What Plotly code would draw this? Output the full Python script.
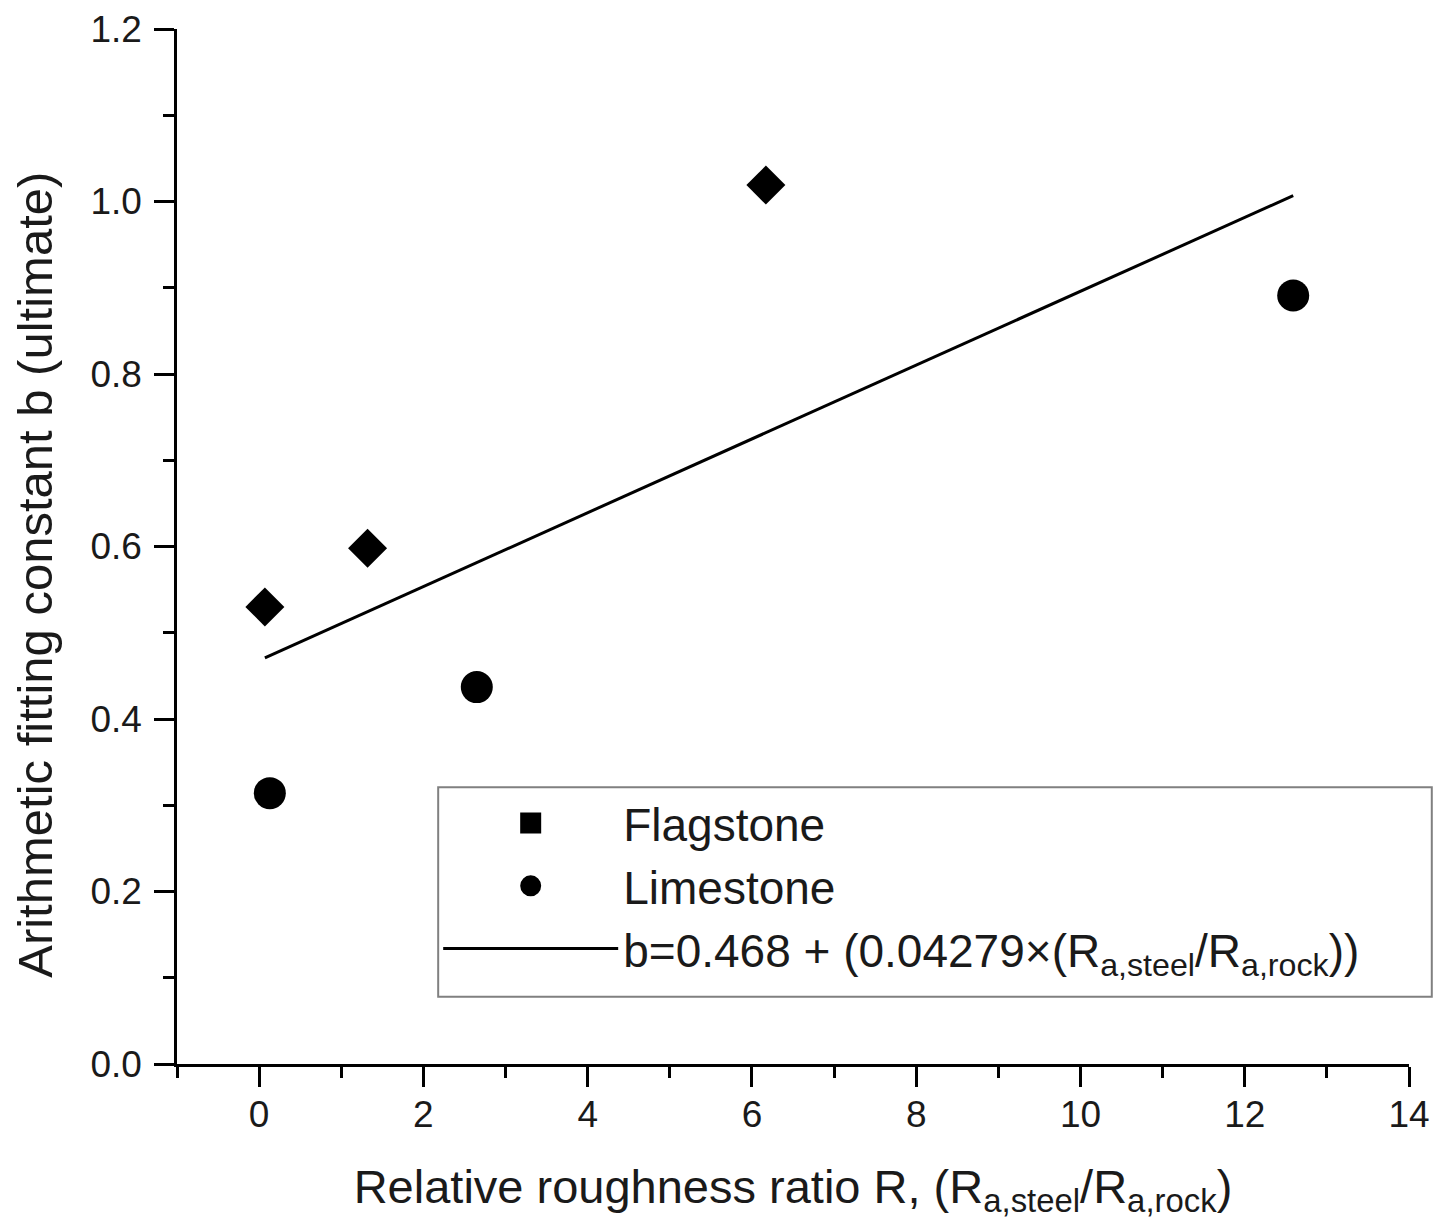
import plotly.graph_objects as go

# Measured points
flag_x = [0.07, 1.32, 6.17]
flag_y = [0.530, 0.598, 1.019]
lime_x = [0.13, 2.65, 12.59]
lime_y = [0.314, 0.437, 0.891]

# Linear fit reported in the legend: b = 0.468 + 0.04279 * R
fit_intercept = 0.468
fit_slope = 0.04279
all_x = flag_x + lime_x
fit_x = [min(all_x), max(all_x)]
fit_y = [fit_intercept + fit_slope * v for v in fit_x]

x_ticks = [0, 2, 4, 6, 8, 10, 12, 14]
y_ticks = [0.0, 0.2, 0.4, 0.6, 0.8, 1.0, 1.2]

FONT = "Liberation Sans, Arial, sans-serif"
INK = "#1a1a1a"

fig = go.Figure()

fig.add_trace(go.Scatter(
    x=flag_x, y=flag_y, mode="markers", name="Flagstone",
    marker=dict(symbol="diamond", size=30, color="black"),
    showlegend=False, legendgroup="flag",
))
# legend key for Flagstone (drawn as a square)
fig.add_trace(go.Scatter(
    x=[None], y=[None], mode="markers", name="Flagstone",
    marker=dict(symbol="square", size=16, color="black",
                line=dict(color="black", width=5)),
    legendgroup="flag",
))
fig.add_trace(go.Scatter(
    x=lime_x, y=lime_y, mode="markers", name="Limestone",
    marker=dict(symbol="circle", size=32, color="black"),
    showlegend=False, legendgroup="lime",
))
# legend key for Limestone (bigger outlined dot)
fig.add_trace(go.Scatter(
    x=[None], y=[None], mode="markers", name="Limestone",
    marker=dict(symbol="circle", size=16, color="black",
                line=dict(color="black", width=5)),
    legendgroup="lime",
))
fig.add_trace(go.Scatter(
    x=fit_x, y=fit_y, mode="lines",
    name="b=0.468 + (0.04279×(R<sub>a,steel</sub>/R<sub>a,rock</sub>))",
    line=dict(color="black", width=3),
))

axis_common = dict(
    showline=True, linecolor="black", linewidth=2.5,
    ticks="outside", ticklen=20, tickwidth=2.5, tickcolor="black",
    showgrid=False, zeroline=False, automargin=False,
    tickfont=dict(family=FONT, size=37, color=INK),
)

fig.update_xaxes(
    range=[-1, 14], tickmode="array", tickvals=x_ticks,
    ticktext=[str(v) for v in x_ticks],
    minor=dict(ticks="outside", ticklen=11, tickwidth=2.5, tickcolor="black", dtick=1),
    ticklabelstandoff=-4,
    title=dict(text="Relative roughness ratio R, (R<sub>a,steel</sub>/R<sub>a,rock</sub>)",
               font=dict(family=FONT, size=47, color=INK), standoff=36),
    **axis_common,
)
fig.update_yaxes(
    range=[0, 1.2], tickmode="array", tickvals=y_ticks,
    ticktext=[f"{v:.1f}" for v in y_ticks],
    minor=dict(ticks="outside", ticklen=11, tickwidth=2.5, tickcolor="black", dtick=0.1),
    ticklabelstandoff=5,
    **axis_common,
)

fig.add_annotation(
    text="Arithmetic fitting constant b (ultimate)",
    textangle=-90, xref="paper", yref="paper",
    x=-0.115, y=0.473, xanchor="center", yanchor="middle",
    showarrow=False, font=dict(family=FONT, size=49, color=INK),
)

# framed panel behind the legend entries
fig.add_shape(
    type="rect", xref="paper", yref="paper",
    x0=0.212, x1=1.0185, y0=0.065, y1=0.2675,
    line=dict(color="#808080", width=2), fillcolor="white", layer="below",
)

fig.update_layout(
    width=1435, height=1230,
    margin=dict(l=177, r=26, t=29, b=166),
    plot_bgcolor="white", paper_bgcolor="white",
    legend=dict(
        x=0.212, y=0.268, xanchor="left", yanchor="top",
        bgcolor="rgba(0,0,0,0)", borderwidth=0,
        font=dict(family=FONT, size=46, color=INK),
        itemwidth=175, tracegroupgap=0,
    ),
)

fig.write_html("out.html")
